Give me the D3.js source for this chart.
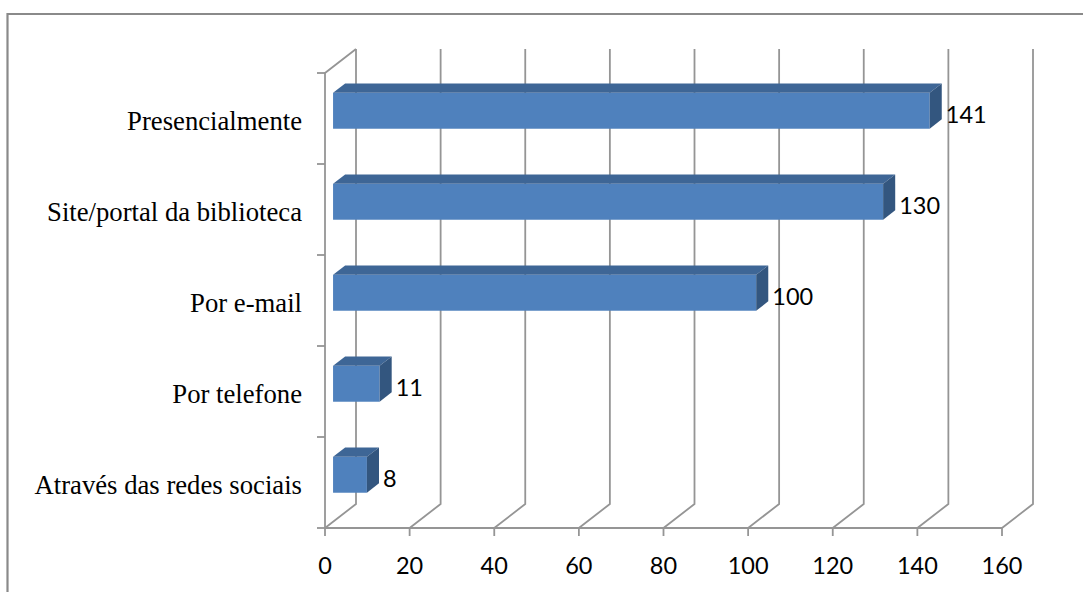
<!DOCTYPE html>
<html>
<head>
<meta charset="utf-8">
<script src="https://cdn.jsdelivr.net/npm/d3@7"></script>
<style>
  html, body { margin: 0; padding: 0; background: #fff; }
  svg { display: block; }
</style>
</head>
<body>
<svg id="chart" width="1083" height="592"></svg>
<script>
// Canais de acesso
const categories = ["Presencialmente", "Site/portal da biblioteca", "Por e-mail", "Por telefone", "Através das redes sociais"];
const values = [141, 130, 100, 11, 8];
const tickValues = [0, 20, 40, 60, 80, 100, 120, 140, 160];

const W = 1083, H = 592;
const svg = d3.select("#chart");

// front plane of the 3D box
const x = d3.scaleLinear().domain([0, 160]).range([325, 1002]);
const y = d3.scaleBand().domain(categories).range([73, 528]);

// depth offset of the back wall
const DX = 31, DY = -24;
// bar depth positions (fraction of box depth)
const F1 = 0.26, F2 = 0.65;

const gridColor = "#959595";
const gridW = 1.8;
const numFont = "Lato, 'Open Sans', sans-serif";

// outer frame (left and top edges)
svg.append("path")
  .attr("d", `M7.5,${H} V14 H${W}`)
  .attr("fill", "none")
  .attr("stroke", "#8a8a8a")
  .attr("stroke-width", 2.2);

const grid = svg.append("g").attr("fill", "none").attr("stroke", gridColor).attr("stroke-width", gridW);
const yTop = y.range()[0], yBot = y.range()[1];

// back wall vertical gridlines + floor diagonals
tickValues.forEach(v => {
  const xf = x(v);
  grid.append("path").attr("d", `M${xf},${yBot} L${xf + DX},${yBot + DY} L${xf + DX},${yTop + DY}`);
});

// side wall: front vertical axis and top diagonal
grid.append("path").attr("d", `M${x(0)},${yBot} V${yTop} L${x(0) + DX},${yTop + DY}`);

// floor front edge
grid.append("path").attr("d", `M${x(0)},${yBot} H${x(160)}`);

// x-axis ticks
tickValues.forEach(v => {
  grid.append("path").attr("d", `M${x(v)},${yBot} V${yBot + 8}`);
});

// category ticks on the vertical axis
const bounds = categories.map(c => y(c)).concat([yBot]);
bounds.forEach(b => {
  grid.append("path").attr("d", `M${x(0) - 8},${b} H${x(0)}`);
});

// bars
const barH = y.bandwidth() * 0.395;
const bars = svg.append("g");
categories.forEach((c, i) => {
  const v = values[i];
  const cy = y(c) + y.bandwidth() / 2 - 1.5;
  const x0 = x(0), x1 = x(v);
  const fx = DX * F1, fy = DY * F1;
  const bx = DX * F2, by = DY * F2;
  const top = cy - barH / 2, bot = cy + barH / 2;

  // front face
  bars.append("rect")
    .attr("x", x0 + fx).attr("y", top + fy)
    .attr("width", x1 - x0).attr("height", barH)
    .attr("fill", "#4f81bd");
  // top face
  bars.append("path")
    .attr("d", `M${x0 + fx},${top + fy} L${x0 + bx},${top + by} L${x1 + bx},${top + by} L${x1 + fx},${top + fy} Z`)
    .attr("fill", "#3e6696");
  // right side face
  bars.append("path")
    .attr("d", `M${x1 + fx},${top + fy} L${x1 + bx},${top + by} L${x1 + bx},${bot + by} L${x1 + fx},${bot + fy} Z`)
    .attr("fill", "#33567f");

  // value label
  svg.append("text")
    .attr("x", x1 + bx + 4)
    .attr("y", cy + fy + 3)
    .attr("dominant-baseline", "central")
    .attr("font-family", numFont)
    .attr("font-size", 23.5)
    .attr("fill", "#000")
    .text(v);
});

// category labels
categories.forEach(c => {
  svg.append("text")
    .attr("x", 302)
    .attr("y", y(c) + y.bandwidth() / 2 + 2)
    .attr("text-anchor", "end")
    .attr("dominant-baseline", "central")
    .attr("font-family", "'Liberation Serif', 'Times New Roman', serif")
    .attr("font-size", 26.7)
    .attr("fill", "#000")
    .text(c);
});

// x-axis tick labels
tickValues.forEach(v => {
  svg.append("text")
    .attr("x", x(v))
    .attr("y", 565)
    .attr("text-anchor", "middle")
    .attr("dominant-baseline", "central")
    .attr("font-family", numFont)
    .attr("font-size", 23.5)
    .attr("fill", "#000")
    .text(v);
});
</script>
</body>
</html>
